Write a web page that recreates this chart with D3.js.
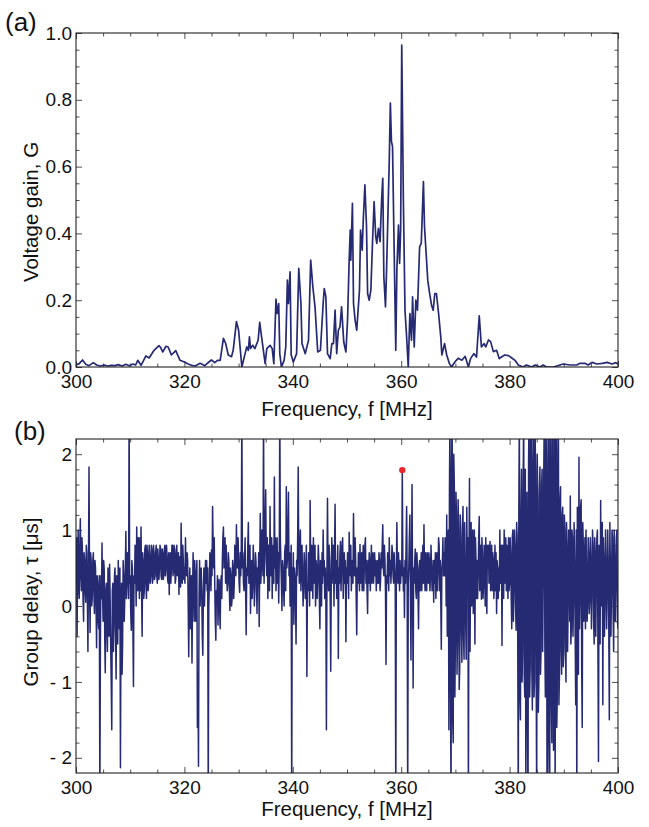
<!DOCTYPE html>
<html><head><meta charset="utf-8">
<script src="https://cdn.jsdelivr.net/npm/d3@7"></script>
<style>
body{margin:0;background:#fff;}
svg{display:block;font-family:"Liberation Sans",Arial,Helvetica,sans-serif;}
</style></head>
<body><svg id="c" width="649" height="827"></svg>
<script>
// ---------- Panel (a): voltage gain ----------
const gainFreq = [300.0,300.6,301.2,301.8,302.4,303.2,303.8,304.5,305.2,305.8,306.5,307.2,307.8,308.5,309.2,309.8,310.5,311.0,311.4,312.0,312.9,313.5,314.4,315.3,315.6,316.0,316.6,317.0,317.6,318.4,319.2,320.0,320.6,321.3,322.0,322.9,323.8,324.3,325.0,325.6,326.1,326.6,327.2,327.6,328.1,328.7,329.0,329.6,330.0,330.6,331.2,331.5,331.8,332.0,332.2,332.6,333.0,333.6,333.9,334.2,334.9,335.2,335.8,336.2,336.5,336.9,337.1,337.4,337.6,337.9,338.4,338.7,339.0,339.2,339.5,339.7,340.1,340.7,341.1,341.5,341.7,342.3,342.9,343.3,343.7,344.1,344.6,345.1,345.6,345.8,346.1,346.4,346.9,347.2,347.5,347.8,348.1,348.4,348.7,349.0,349.4,349.8,350.1,350.4,350.6,350.7,351.0,351.2,351.5,351.8,352.3,352.5,352.8,353.0,353.3,353.6,353.8,354.1,354.4,354.7,355.0,355.3,355.5,355.8,356.1,356.4,356.6,356.8,357.1,357.3,357.5,357.8,358.0,358.2,358.4,358.7,359.0,359.2,359.5,359.7,359.9,360.1,360.4,360.7,361.0,361.3,361.6,361.9,362.1,362.4,362.7,363.0,363.4,363.7,364.1,364.3,364.6,364.9,365.2,365.6,365.9,366.2,366.5,366.9,367.3,367.5,368.0,368.4,368.9,369.3,369.9,370.5,371.2,371.8,372.4,372.8,373.4,373.9,374.4,374.8,375.3,375.6,376.1,376.5,377.0,377.6,378.1,378.5,379.1,379.8,380.4,381.0,381.6,382.5,383.1,384.1,384.7,385.6,386.2,386.8,388.1,389.3,389.9,391.1,392.4,393.0,393.9,394.5,395.2,396.1,397.1,398.0,398.9,399.6,400.0];
const gainValue = [0.006,0.01,0.021,0.008,0.004,0.013,0.006,0.003,0.006,0.003,0.005,0.004,0.007,0.003,0.008,0.004,0.009,0.006,0.02,0.005,0.033,0.027,0.05,0.064,0.059,0.045,0.062,0.06,0.036,0.049,0.02,0.015,0.01,0.005,0.003,0.011,0.004,0.012,0.021,0.013,0.02,0.02,0.086,0.071,0.036,0.031,0.05,0.136,0.11,0.0,0.04,0.06,0.05,0.09,0.055,0.065,0.055,0.08,0.134,0.095,0.01,0.055,0.065,0.055,0.01,0.203,0.16,0.19,0.04,0.0,0.02,0.06,0.26,0.19,0.285,0.036,0.015,0.04,0.295,0.19,0.07,0.04,0.08,0.32,0.24,0.18,0.045,0.05,0.19,0.235,0.21,0.04,0.025,0.07,0.07,0.17,0.04,0.11,0.12,0.18,0.075,0.045,0.14,0.32,0.41,0.32,0.49,0.19,0.14,0.11,0.23,0.41,0.35,0.44,0.545,0.42,0.22,0.2,0.23,0.37,0.495,0.39,0.37,0.415,0.375,0.505,0.565,0.27,0.18,0.29,0.42,0.62,0.79,0.675,0.66,0.35,0.05,0.29,0.425,0.31,0.41,0.964,0.5,0.17,0.09,0.0,0.16,0.08,0.21,0.06,0.2,0.17,0.36,0.37,0.555,0.42,0.34,0.26,0.225,0.185,0.17,0.22,0.22,0.16,0.09,0.036,0.07,0.036,0.01,0.0,0.015,0.026,0.02,0.032,0.0,0.025,0.04,0.03,0.153,0.06,0.07,0.06,0.081,0.076,0.046,0.05,0.025,0.03,0.036,0.034,0.027,0.02,0.006,0.0,0.006,0.0,0.006,0.0,0.006,0.0,0.0,0.006,0.009,0.006,0.006,0.011,0.011,0.006,0.014,0.009,0.011,0.014,0.009,0.013,0.009];

// ---------- Panel (b): group delay ----------
// samples at 300.0, 300.2, ... 400.0
const delayStart = 300, delayStep = 0.2;
const delayValue = [
 0.3,-0.4,1.0,0.1,1.15,0.2,0.7,-0.2,0.6,0.05,
 0.7,-0.6,1.83,-0.35,0.6,0.1,0.7,-0.1,0.5,-0.55,
 0.3,-0.3,-2.6,0.4,0.83,-0.2,0.5,-0.88,0.3,-0.6,
 0.2,0.55,-0.5,-1.63,0.3,-0.3,0.5,-0.96,0.2,0.6,
 -0.3,-2.13,0.3,-0.5,0.4,0.1,0.98,0.3,0.6,2.6,
 0.4,-0.32,0.5,-1.06,0.3,0.6,1.04,0.2,0.7,0.9,
 1.04,-0.4,0.6,0.2,0.8,0.1,0.7,0.3,0.65,0.4,
 0.75,0.35,0.7,0.4,0.8,0.3,0.6,0.5,0.75,0.35,
 0.7,0.4,0.8,0.5,0.65,0.3,0.15,0.7,0.5,0.8,
 0.45,0.7,0.35,0.8,0.5,0.15,0.6,1.09,0.3,0.6,
 0.5,0.9,0.4,0.6,-0.67,0.5,0.2,-0.75,0.7,-0.2,
 0.4,0.3,-1.6,-2.11,0.6,0.3,0.2,-0.65,0.5,0.3,
 0.3,0.2,-2.6,0.3,0.5,0.74,1.31,0.5,0.3,-0.45,
 0.1,-0.25,0.35,-0.3,0.4,0.6,1.04,0.7,0.3,0.5,
 0.3,0.6,-0.06,0.4,0.1,0.5,0.3,0.7,1.07,0.5,
 0.6,0.18,0.4,2.6,0.7,0.2,0.9,-0.38,0.4,1.1,
 0.4,-0.1,0.6,0.3,0.5,0.2,0.6,-0.1,0.3,-0.27,
 1.22,0.5,0.8,2.6,0.7,1.53,0.4,0.1,0.6,1.31,
 0.5,0.1,0.8,1.7,0.9,0.5,0.3,0.04,2.6,0.6,
 -0.06,0.5,0.0,0.8,1.57,0.6,1.5,0.7,0.3,-2.6,
 0.3,-0.24,0.4,-0.5,0.4,1.83,0.3,1.0,0.5,0.4,
 0.3,0.5,0.4,-0.93,0.2,0.6,1.39,0.2,0.5,0.9,
 0.4,0.0,0.5,0.4,0.6,-0.3,0.5,0.7,1.0,0.6,
 0.5,-1.63,1.42,0.2,0.6,-0.86,0.9,0.3,0.0,1.34,
 0.6,0.4,-0.69,0.3,0.85,0.5,0.9,0.4,0.3,-0.47,
 0.3,0.5,0.97,0.4,0.2,0.6,1.22,0.4,0.6,-0.38,
 0.3,0.6,0.81,0.4,0.2,0.8,0.5,0.9,0.6,-0.1,
 0.3,0.6,0.5,0.3,0.7,0.5,0.4,0.2,0.6,0.3,
 0.6,0.35,0.5,1.07,0.4,0.6,-0.77,0.3,0.5,0.9,
 0.6,0.5,0.7,0.3,0.5,-2.6,1.1,0.3,0.5,0.6,
 0.5,1.79,0.2,-0.15,0.3,1.31,-2.6,0.5,1.2,-0.71,
 1.6,-1.08,0.3,0.75,0.1,0.5,-0.3,0.6,0.5,0.2,
 0.8,1.07,0.2,0.5,0.7,0.3,0.6,0.4,0.5,0.3,
 0.05,0.3,0.1,0.7,0.5,0.8,0.6,-0.57,0.6,0.4,
 0.4,0.8,1.2,0.3,-1.63,2.6,-2.6,2.6,-1.8,1.6,
 -0.5,1.2,-0.4,1.0,-0.8,0.9,-0.74,1.31,-0.7,0.6,
 -0.7,0.3,-2.6,1.68,0.5,0.0,1.0,0.4,-0.5,0.6,
 0.6,0.4,1.18,0.5,0.09,0.6,0.3,0.5,0.9,-0.1,
 0.5,0.3,0.85,0.4,0.2,0.6,0.4,0.2,-0.1,0.5,
 0.5,1.0,0.4,-0.52,0.5,1.0,0.6,0.2,0.5,0.9,
 0.3,0.7,-0.3,1.0,0.2,0.8,-0.32,0.9,-2.6,2.6,
 -1.5,1.8,-0.6,2.6,-1.2,-2.6,1.5,-2.6,2.6,-0.8,
 2.6,-1.37,2.6,-1.0,1.8,-2.6,1.4,-1.0,1.83,-0.6,
 1.8,0.3,2.6,-1.2,2.6,-2.6,2.6,-2.6,2.6,-1.8,
 2.6,-1.5,-2.6,2.6,-1.2,2.6,-0.9,1.57,-0.9,1.3,
 -0.6,1.0,-1.0,0.8,0.0,0.95,1.45,-0.3,0.9,0.2,
 0.6,-1.3,-2.6,0.8,1.96,0.1,1.4,-1.6,0.8,0.3,
 -0.3,0.5,0.0,0.7,0.1,0.6,0.2,0.8,-0.5,0.7,
 0.3,1.0,-2.05,0.6,1.39,0.2,-1.3,0.6,0.1,0.5,
 0.2,0.6,-1.5,0.5,0.2,0.9,-0.6,0.6,0.3,1.0,
 -0.3];
// in-between samples at 300.1, 300.3, ... 399.9
const delayValueMid = [
 0.9,0.6,0.2,0.8,0.4,0.9,0.1,0.7,0.2,0.8,
 0.1,0.5,0.3,0.7,0.0,0.6,0.2,0.6,0.0,0.4,
 -0.2,0.4,-0.5,0.1,0.2,0.6,-0.4,0.2,-0.3,0.5,
 -0.4,0.1,-1.0,0.2,-0.6,0.4,-0.3,0.4,-0.5,0.0,
 0.5,-0.2,-0.9,0.6,-0.2,0.5,0.1,0.7,0.1,0.3,
 -0.1,0.6,-0.3,0.4,0.8,0.0,0.5,0.9,0.1,0.2,
 0.2,0.7,0.1,0.75,0.3,0.8,0.2,0.8,0.3,0.8,
 0.3,0.8,0.35,0.7,0.4,0.75,0.35,0.8,0.4,0.75,
 0.35,0.75,0.4,0.8,0.35,0.7,0.6,0.3,0.8,0.4,
 0.8,0.3,0.75,0.4,0.7,0.65,0.25,0.5,0.8,0.35,
 0.3,0.5,0.7,0.0,0.2,-0.3,0.4,0.1,0.3,0.6,
 -0.2,0.6,-0.9,0.1,0.0,0.5,-0.4,0.2,0.0,0.6,
 0.6,0.5,0.0,0.7,0.2,0.4,0.8,0.9,-0.2,0.2,
 0.4,0.1,0.0,0.3,0.1,0.9,0.5,0.9,0.8,0.2,
 0.7,0.2,0.5,0.0,0.6,0.1,0.8,0.4,0.6,0.9,
 0.3,0.7,0.8,0.5,0.3,0.6,0.2,0.5,0.8,0.3,
 0.8,0.5,0.1,0.8,0.0,0.7,0.3,0.5,0.7,0.6,
 0.3,1.0,0.4,0.3,1.1,0.6,0.9,0.8,0.2,0.4,
 0.9,0.6,0.3,0.5,0.2,0.9,0.7,0.6,0.9,0.3,
 0.6,0.2,0.7,0.2,0.5,1.0,0.4,0.0,0.8,0.5,
 0.7,0.5,0.1,0.6,0.9,0.6,0.8,0.2,0.8,0.0,
 0.7,0.1,0.8,0.3,0.7,0.0,0.5,0.8,0.1,0.3,
 0.8,0.6,0.1,0.8,0.1,0.6,0.0,0.3,0.4,0.1,
 0.1,0.4,0.5,0.8,0.1,0.4,0.6,0.8,0.7,0.3,
 0.1,0.8,0.5,0.7,0.2,0.8,0.1,0.7,0.6,0.5,
 0.7,0.1,0.5,0.8,0.5,0.3,0.6,0.9,0.1,0.5,
 0.7,0.2,0.3,0.7,0.6,0.2,0.8,0.3,0.2,0.6,
 0.7,0.2,0.8,0.6,0.3,0.7,0.6,0.5,0.3,0.7,
 0.2,0.7,0.8,0.5,0.8,0.2,0.4,0.7,0.2,0.4,
 0.3,0.8,0.4,0.7,0.3,0.4,0.5,0.7,0.2,0.3,
 0.4,0.6,0.5,0.6,0.8,0.4,0.3,0.9,0.1,0.5,
 0.2,0.5,0.6,0.2,0.7,0.2,0.5,0.2,0.7,0.6,
 0.3,0.5,0.7,0.2,0.4,0.7,0.2,0.8,0.2,0.6,
 0.6,0.7,0.5,0.2,0.9,0.2,0.1,0.5,0.9,0.7,
 0.9,0.0,-0.4,1.0,1.5,-1.2,1.8,-1.5,2.0,-1.2,
 1.5,-0.9,1.4,-1.1,1.2,-0.3,1.0,-0.4,1.1,-0.2,
 1.3,0.9,0.5,-0.6,1.1,0.8,-0.1,1.0,0.9,0.1,
 0.1,0.9,0.2,0.8,0.9,0.1,0.8,0.0,0.3,0.8,
 0.8,0.7,0.2,0.8,0.7,0.1,0.8,0.7,0.6,0.1,
 0.2,0.3,0.8,0.8,0.1,0.3,0.9,0.8,0.1,0.2,
 0.9,0.1,0.9,-0.2,1.0,0.0,1.1,-0.4,1.2,-1.2,
 1.2,-1.0,1.6,-0.9,1.8,0.6,-1.5,1.9,-1.2,2.2,
 -0.8,1.9,-1.2,2.3,-0.8,2.0,-1.4,1.5,-0.9,1.6,
 -0.6,1.7,-0.5,2.2,-2.4,1.9,-1.8,2.3,-1.3,2.1,
 -1.9,2.2,1.8,-1.6,2.0,-1.3,1.4,-0.6,1.2,-0.8,
 1.2,-0.5,1.1,-0.6,1.0,-0.2,-0.5,1.0,-0.4,1.1,
 -0.4,1.0,1.3,-0.9,-0.3,1.3,-0.8,1.1,-0.2,0.9,
 1.0,-0.2,0.9,-0.1,0.9,-0.3,1.0,-0.2,0.9,-0.4,
 0.9,-0.6,0.8,-0.5,0.0,1.1,0.9,-0.4,1.0,-0.3,
 1.0,-0.3,1.1,-0.4,1.0,-0.1,1.0,-0.2,0.9,-0.2];
const markerPoint = [360.2, 1.79];

const xTicksMajor = [300,320,340,360,380,400];
const xTicksMinor = [305,310,315,325,330,335,345,350,355,365,370,375,385,390,395];
const gainTicksMajor = [0,0.2,0.4,0.6,0.8,1.0];
const gainTicksMinor = [0.05,0.1,0.15,0.25,0.3,0.35,0.45,0.5,0.55,0.65,0.7,0.75,0.85,0.9,0.95];
const delayTicksMajor = [-2,-1,0,1,2];
const delayTicksMinor = [-1.8,-1.6,-1.4,-1.2,-0.8,-0.6,-0.4,-0.2,0.2,0.4,0.6,0.8,1.2,1.4,1.6,1.8];

const lineColor = "#262a73";
const svg = d3.select("#c");
const defs = svg.append("defs");

function panel(top, bottom, yDomain, yMaj, yMin, yFmt) {
  const x = d3.scaleLinear().domain([300,400]).range([76,618]);
  const y = d3.scaleLinear().domain(yDomain).range([bottom, top]);
  const g = svg.append("g");
  const L = 76, R = 618;
  const mk = (ax, tr, vals, size, fmt, pad) => {
    const a = g.append("g").attr("transform", tr)
      .call(ax.tickValues(vals).tickSize(-size).tickPadding(pad || 0).tickFormat(fmt || ""));
    a.select(".domain").remove();
    a.selectAll("line").attr("stroke", "#222").attr("stroke-width", 0.8);
    a.selectAll("text").attr("fill", "#111").style("font-size", "19px")
      .style("font-family", '"Liberation Sans",Arial,sans-serif');
    return a;
  };
  mk(d3.axisBottom(x), `translate(0,${bottom})`, xTicksMajor, 6, d3.format("d"), 8);
  mk(d3.axisBottom(x), `translate(0,${bottom})`, xTicksMinor, 3.5);
  mk(d3.axisTop(x), `translate(0,${top})`, xTicksMajor, 6);
  mk(d3.axisTop(x), `translate(0,${top})`, xTicksMinor, 3.5);
  mk(d3.axisLeft(y), `translate(${L},0)`, yMaj, 6, yFmt, 4);
  mk(d3.axisLeft(y), `translate(${L},0)`, yMin, 3.5);
  mk(d3.axisRight(y), `translate(${R},0)`, yMaj, 6);
  mk(d3.axisRight(y), `translate(${R},0)`, yMin, 3.5);
  return {x, y, g};
}

// Panel (a)
const A = panel(33, 367, [0,1], gainTicksMajor, gainTicksMinor, d3.format(".1f"));
defs.append("clipPath").attr("id","clipA").append("rect")
  .attr("x",76).attr("y",33).attr("width",542).attr("height",334);
svg.append("path").datum(gainFreq.map((f,i)=>[f,gainValue[i]]))
  .attr("clip-path","url(#clipA)")
  .attr("fill","none").attr("stroke",lineColor).attr("stroke-width",1.7).attr("stroke-linejoin","round")
  .attr("d", d3.line().x(d=>A.x(d[0])).y(d=>A.y(d[1])));
svg.append("rect").attr("x",76).attr("y",33).attr("width",542).attr("height",334)
  .attr("fill","none").attr("stroke","#222").attr("stroke-width",1.1);

// Panel (b)
const B = panel(439, 773, [-2.2,2.2], delayTicksMajor, delayTicksMinor,
  d => d < 0 ? "- " + Math.abs(d) : String(d));
defs.append("clipPath").attr("id","clipB").append("rect")
  .attr("x",76).attr("y",439).attr("width",542).attr("height",334);
const delayPts = [];
delayValue.forEach((v,i) => {
  delayPts.push([delayStart + i*delayStep, v]);
  if (i < delayValueMid.length) delayPts.push([delayStart + (i+0.5)*delayStep, delayValueMid[i]]);
});
svg.append("path").datum(delayPts)
  .attr("clip-path","url(#clipB)")
  .attr("fill","none").attr("stroke",lineColor).attr("stroke-width",1.5).attr("stroke-linejoin","round")
  .attr("d", d3.line().x(d=>B.x(d[0])).y(d=>B.y(d[1])));
svg.append("rect").attr("x",76).attr("y",439).attr("width",542).attr("height",334)
  .attr("fill","none").attr("stroke","#222").attr("stroke-width",1.1);
svg.append("circle").attr("cx",B.x(markerPoint[0])).attr("cy",B.y(markerPoint[1])).attr("r",3.2).attr("fill","#e8262a");

// Titles
const txt = (x,y,s,size,rot) => {
  const t = svg.append("text").attr("x",x).attr("y",y).text(s)
    .style("font-size",size+"px").attr("fill","#111").attr("text-anchor","middle");
  if (rot) t.attr("transform",`rotate(-90,${x},${y})`);
  return t;
};
txt(347, 416, "Frequency, f [MHz]", 20.5);
txt(347, 816, "Frequency, f [MHz]", 20.5);
txt(38, 212, "Voltage gain, G", 20.5, true);
txt(38, 602, "Group delay, τ [μs]", 20.5, true);
svg.append("text").attr("x",5).attr("y",31).text("(a)").style("font-size","26px").attr("fill","#111");
svg.append("text").attr("x",14).attr("y",440).text("(b)").style("font-size","26px").attr("fill","#111");
</script></body></html>
